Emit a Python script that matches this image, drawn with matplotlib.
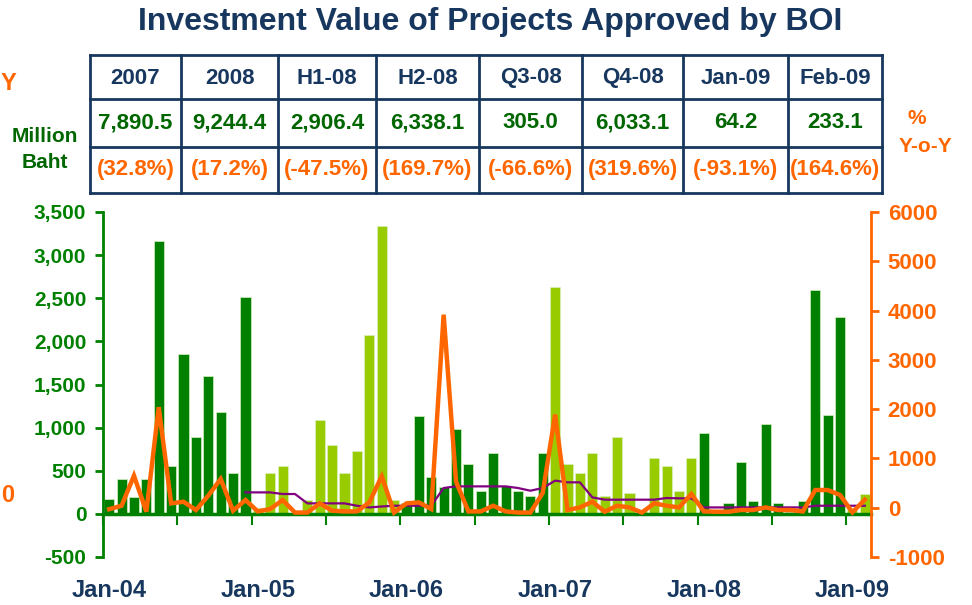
import numpy as np
import matplotlib.pyplot as plt
from matplotlib.transforms import blended_transform_factory

plt.rcParams['font.family'] = ['Liberation Sans', 'DejaVu Sans']
plt.rcParams['font.weight'] = 'bold'
plt.rcParams['axes.unicode_minus'] = False

NAVY = '#17375E'
GREEN = '#008000'
DKGREEN = '#006600'
LIGHT = '#99CC00'
ORANGE = '#FF6600'
PURPLE = '#800080'

# ---- data ----
title = "Investment Value of Projects Approved by BOI"
tbl_head = ["2007", "2008", "H1-08", "H2-08", "Q3-08", "Q4-08", "Jan-09", "Feb-09"]
tbl_value = ["7,890.5", "9,244.4", "2,906.4", "6,338.1", "305.0", "6,033.1", "64.2", "233.1"]
tbl_yoy = ["(32.8%)", "(17.2%)", "(-47.5%)", "(169.7%)", "(-66.6%)", "(319.6%)", "(-93.1%)", "(164.6%)"]

# monthly value, million baht
bv_2004 = [174, 402, 201, 402, 3161, 556, 1851, 893, 1604, 1183, 472, 2516]
bv_2005 = [65, 472, 556, 8, 162, 1090, 800, 472, 734, 2071, 3343, 162]
bv_2006 = [131, 1136, 425, 317, 982, 580, 271, 711, 325, 271, 209, 711]
bv_2007 = [2628, 580, 472, 711, 209, 889, 247, 41, 645, 556, 267, 645]
bv_2008 = [935, 45, 130, 600, 155, 1041.4, 130, 20, 155, 2600, 1150, 2283.1]
bv_2009 = [64.2, 233.1]

# % y-o-y, monthly
yoy = [-30, 40, 650, -80, 2040, 88, 122, -47, 244, 583, -61, 156,
       -75, -27, 156, -98, -98, 88, -61, -75, -75, 108, 637, -98,
       88, 108, -27, 3917, 530, -75, -75, 40, -75, -98, -98, 300,
       1890, -47, 6, 122, -81, 40, 6, -98, 88, 40, 6, 278,
       -75, -81, -81, -47, -47, 6, -47, -47, -75, 359, 359, 258,
       -93.1, 164.6]

# purple line, from Dec-04 on
purple_start = 11
purple = [311, 311, 311, 278, 278, 88, 88, 88, 88, 40, 6, 25, 40,
          40, 40, 40, 400, 433, 433, 433, 433, 433, 400, 345, 400,
          549, 515, 515, 210, 163, 163, 163, 163, 163, 197, 190, 190,
          6, 6, 6, 6, 6, 6, 6, 6, 6, 40, 40, 40, 40, 40]

year_labels = ["Jan-04", "Jan-05", "Jan-06", "Jan-07", "Jan-08", "Jan-09"]

years = [bv_2004, bv_2005, bv_2006, bv_2007, bv_2008, bv_2009]
values = []
colors = []
for i, yv in enumerate(years):
    values += yv
    colors += [GREEN if i % 2 == 0 else LIGHT] * len(yv)
n = len(values)
x = np.arange(n)

W, H = 972, 605
fig = plt.figure(figsize=(W / 100, H / 100), dpi=100)
ax = fig.add_axes([103 / W, 1 - 557 / H, (871 - 103) / W, (557 - 212) / H])

ax.bar(x, values, width=0.82, color=colors, edgecolor='#d8f0c0', linewidth=0.5, zorder=2)
ax.set_xlim(-0.5, n - 0.5)
ax.set_ylim(-500, 3500)
ax.set_yticks(np.arange(-500, 3501, 500))
ax.set_yticklabels([f"{v:,}" for v in range(-500, 3501, 500)])
ax.tick_params(axis='y', colors=GREEN, labelsize=15, length=6, width=2, pad=6)

ax.spines['top'].set_visible(False)
ax.spines['right'].set_visible(False)
ax.spines['left'].set_color(GREEN)
ax.spines['left'].set_linewidth(2)
ax.spines['bottom'].set_position(('data', 0))
ax.spines['bottom'].set_color(GREEN)
ax.spines['bottom'].set_linewidth(2.5)
ax.spines['bottom'].set_zorder(3)
ax.set_xticks(np.arange(-0.5, n - 1, 6))
ax.set_xticklabels([])
ax.tick_params(axis='x', colors=GREEN, length=8, width=1.5, direction='out')

trans = blended_transform_factory(ax.transData, ax.transAxes)
for i, lab in enumerate(year_labels):
    ax.text(i * 12, -0.096, lab, transform=trans, ha='center', va='center',
            fontsize=17, color=NAVY)

ax2 = ax.twinx()
ax2.set_ylim(-1000, 6000)
ax2.set_yticks(np.arange(-1000, 6001, 1000))
ax2.plot(np.arange(purple_start, purple_start + len(purple)), purple,
         color=PURPLE, lw=1.6, zorder=3)
ax2.plot(x, yoy, color=ORANGE, lw=3.2, solid_joinstyle='miter', zorder=4)
for s in ['top', 'left', 'bottom']:
    ax2.spines[s].set_visible(False)
ax2.spines['right'].set_color(ORANGE)
ax2.spines['right'].set_linewidth(2)
ax2.tick_params(axis='y', colors=ORANGE, labelsize=16, length=6, width=2, pad=6)

# ---- overlay: title, table, side labels ----
ov = fig.add_axes([0, 0, 1, 1])
ov.set_xlim(0, W)
ov.set_ylim(H, 0)
ov.axis('off')

ov.text(490, 22, title, ha='center', va='center', fontsize=23, color=NAVY)

cols = [90, 181, 278, 376, 479, 582, 683, 788, 882]
rows = [55, 99, 147, 193]
for cx in cols:
    ov.plot([cx, cx], [rows[0], rows[-1]], color=NAVY, lw=2)
for ry in rows:
    ov.plot([cols[0], cols[-1]], [ry, ry], color=NAVY, lw=2)
for j in range(len(tbl_head)):
    cx = (cols[j] + cols[j + 1]) / 2
    ov.text(cx, (rows[0] + rows[1]) / 2 + 1, tbl_head[j], ha='center', va='center',
            fontsize=16, color=NAVY)
    ov.text(cx, (rows[1] + rows[2]) / 2, tbl_value[j], ha='center', va='center',
            fontsize=16, color=DKGREEN)
    ov.text(cx, (rows[2] + rows[3]) / 2, tbl_yoy[j], ha='center', va='center',
            fontsize=16, color=ORANGE)

ov.text(45, 137, "Million", ha='center', va='center', fontsize=15, color=DKGREEN)
ov.text(45, 163, "Baht", ha='center', va='center', fontsize=15, color=DKGREEN)
ov.text(917, 118, "%", ha='center', va='center', fontsize=15, color=ORANGE)
ov.text(925, 147, "Y-o-Y", ha='center', va='center', fontsize=15, color=ORANGE)
ov.text(1, 83, "Y", ha='left', va='center', fontsize=17, color=ORANGE)
ov.text(1, 495, "0", ha='left', va='center', fontsize=17, color=ORANGE)

fig.savefig("out.png", dpi=100)
